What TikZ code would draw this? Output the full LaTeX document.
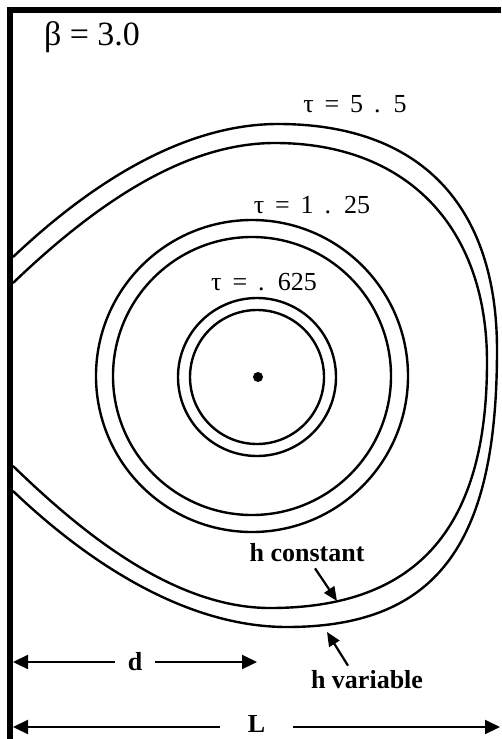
\documentclass[tikz,border=0pt]{standalone}
\usepackage{fontspec}
\setmainfont{Liberation Serif}
\usetikzlibrary{positioning,arrows.meta}
\tikzset{
  courbe/.style={line width=2.4pt},
  cote/.style={line width=2.2pt,
    {Triangle[length=15pt,width=14pt]}-{Triangle[length=15pt,width=14pt]}},
  fleche/.style={line width=2.2pt, -{Triangle[length=14pt,width=12pt]}},
  etiquette/.style={font=\fontsize{26}{28}\selectfont, inner sep=0pt,
    execute at begin node={\spaceskip=0.42em\relax}},
  legende/.style={font=\fontsize{26}{28}\selectfont\bfseries, inner sep=0pt}
}

\begin{document}
\begin{tikzpicture}[x=1pt,y=-1pt]
      \useasboundingbox (0,0) rectangle (501,739);
      % Cadre : paroi gauche epaisse et bord superieur
      \draw[line width=6pt] (10,739) -- (10,10) -- (501,10);
      % Source ponctuelle et isochrones circulaires (tau = .625 et 1.25)
      \fill (258,377) circle (5pt);
      \draw[courbe] (257,377) circle (67pt);
      \draw[courbe] (257,377) circle (79pt);
      \draw[courbe] (252,376) circle (139pt);
      \draw[courbe] (252,376) circle (156pt);
      % Isochrones tau = 5.5 coupees par la paroi : h constant (interieure)
      \draw[courbe] (13,283) .. controls (110,190) and (195,143) .. (275,143)
        .. controls (405,143) and (487,225) .. (487,362)
        .. controls (487,525) and (420,608) .. (270,608)
        .. controls (170,608) and (75,526) .. (13,466);
      % ... et h variable (exterieure)
      \draw[courbe] (13,257) .. controls (105,170) and (195,124) .. (278,124)
        .. controls (420,124) and (497,205) .. (497,350)
        .. controls (497,540) and (440,627) .. (287,627)
        .. controls (180,627) and (80,555) .. (13,491);
      % Etiquettes
      \node[inner sep=0pt, font=\fontsize{34}{36}\selectfont] (beta)
        at (92,37) {β = 3.0};
      \node[etiquette] (tau55) at (355,104) {τ = 5 . 5};
      \node[etiquette] (tau125) at (312,205) {τ = 1 . 25};
      \node[etiquette] (tau0625) at (264,282) {τ = . 625};
      % Legendes et fleches vers les deux courbes exterieures
      \node[legende] (hconst) at (307,553) {h constant};
      \node[legende] (hvar) at (367,680) {h variable};
      \coordinate (pconst) at (337,601);
      \coordinate (pvar) at (327,632);
      \draw[fleche] ([xshift=8pt,yshift=-6pt]hconst.south) -- (pconst);
      \draw[fleche] ([xshift=-19pt,yshift=5pt]hvar.north) -- (pvar);
      % Cotes d et L depuis la paroi
      \coordinate (murd) at (13,662);
      \coordinate (find) at (257,662);
      \coordinate (murl) at (13,727);
      \coordinate (finl) at (500,727);
      \draw[cote] (murd) -- node[legende, fill=white, inner xsep=13pt,
        inner ysep=1pt] (d) {d} (find);
      \draw[cote] (murl) -- node[legende, fill=white, inner xsep=28pt,
        inner ysep=0pt, yshift=3pt] (longueur) {L} (finl);
    \end{tikzpicture}
\end{document}
